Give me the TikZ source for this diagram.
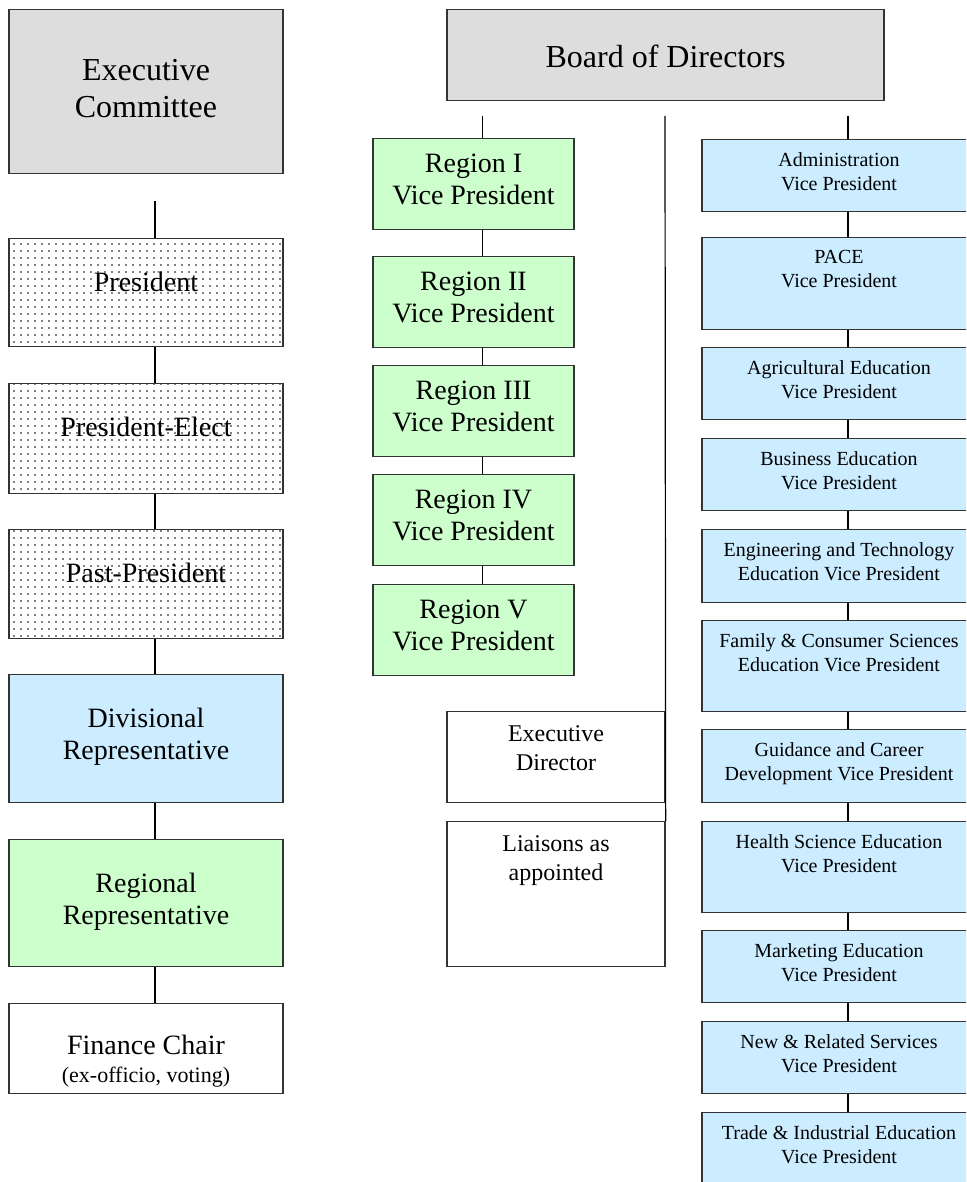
\documentclass[tikz,border=0pt]{standalone}
\usepackage{fontspec}
\setmainfont{Liberation Serif}
\usetikzlibrary{patterns}

\definecolor{headgray}{HTML}{DDDDDD}
\definecolor{vpgreen}{HTML}{CCFFCC}
\definecolor{vpblue}{HTML}{CCECFF}
\definecolor{frame}{HTML}{333333}

\pgfdeclarepatternformonly{sparse dots}{\pgfqpoint{-1pt}{-1pt}}{\pgfqpoint{1pt}{1pt}}{\pgfqpoint{7pt}{7pt}}%
  {\pgfpathcircle{\pgfqpoint{0pt}{0pt}}{0.9pt}\pgfusepath{fill}}

\tikzstyle{box}=[draw=frame,line width=1.3pt,anchor=north,inner sep=0pt]
\tikzstyle{head}=[box,fill=headgray]
\tikzstyle{officer}=[box,pattern=sparse dots,minimum width=274pt]
\tikzstyle{divrep}=[box,fill=vpblue,minimum width=274pt]
\tikzstyle{regrep}=[box,fill=vpgreen,minimum width=274pt]
\tikzstyle{plain}=[box,fill=white]
\tikzstyle{region}=[box,fill=vpgreen,minimum width=201pt,minimum height=91pt]
\tikzstyle{staff}=[box,fill=white,minimum width=218pt]
\tikzstyle{division}=[box,fill=vpblue,minimum width=274pt]
\tikzstyle{link}=[draw=black,line width=1.2pt]

\tikzstyle{txt}=[anchor=north,align=center,inner sep=0pt]
\tikzstyle{toptext}=[txt,yshift=-50pt,font=\fontsize{32}{37}\selectfont]
\tikzstyle{boardtext}=[txt,yshift=-36pt,font=\fontsize{32}{37}\selectfont]
\tikzstyle{lefttext}=[txt,yshift=-34pt,font=\fontsize{28}{32}\selectfont]
\tikzstyle{regiontext}=[txt,yshift=-16pt,font=\fontsize{28}{31.5}\selectfont]
\tikzstyle{stafftext}=[txt,yshift=-14pt,font=\fontsize{24}{29}\selectfont]
\tikzstyle{vptext}=[txt,yshift=-13.5pt,font=\fontsize{20}{23.5}\selectfont]

\begin{document}
\begin{tikzpicture}[x=1pt,y=-1pt]
  \clip (0,0) rectangle (966,1182);

  % executive committee
  \node[head,minimum width=274pt,minimum height=164pt,label={[toptext]north:{Executive\\Committee}}] (exec) at (146,9) {};
  \node[officer,minimum height=108pt,label={[lefttext]north:{President}}] (pres) at (146,238) {};
  \node[officer,minimum height=110pt,label={[lefttext]north:{President-Elect}}] (elect) at (146,383) {};
  \node[officer,minimum height=109pt,label={[lefttext]north:{Past-President}}] (past) at (146,529) {};
  \node[divrep,minimum height=128pt,label={[lefttext]north:{Divisional\\Representative}}] (divrep) at (146,674) {};
  \node[regrep,minimum height=127pt,label={[lefttext]north:{Regional\\Representative}}] (regrep) at (146,839) {};
  \node[plain,minimum width=274pt,minimum height=90pt,label={[lefttext,yshift=2pt]north:{Finance Chair\\[-4pt]{\fontsize{22}{25}\selectfont(ex-officio, voting)}}}] (fin) at (146,1003) {};

  \coordinate (ectop) at (155,201);
  \draw[link] (ectop) -- ([xshift=9pt]pres.north);
  \draw[link] ([xshift=9pt]pres.south) -- ([xshift=9pt]elect.north);
  \draw[link] ([xshift=9pt]elect.south) -- ([xshift=9pt]past.north);
  \draw[link] ([xshift=9pt]past.south) -- ([xshift=9pt]divrep.north);
  \draw[link] ([xshift=9pt]divrep.south) -- ([xshift=9pt]regrep.north);
  \draw[link] ([xshift=9pt]regrep.south) -- ([xshift=9pt]fin.north);

  % board of directors
  \node[head,minimum width=437pt,minimum height=91pt,label={[boardtext]north:{Board of Directors}}] (board) at (665.5,9) {};

  \node[region,label={[regiontext]north:{Region I\\Vice President}}] (reg1) at (473.5,138) {};
  \node[region,label={[regiontext]north:{Region II\\Vice President}}] (reg2) at (473.5,256) {};
  \node[region,label={[regiontext]north:{Region III\\Vice President}}] (reg3) at (473.5,365) {};
  \node[region,label={[regiontext]north:{Region IV\\Vice President}}] (reg4) at (473.5,474) {};
  \node[region,label={[regiontext]north:{Region V\\Vice President}}] (reg5) at (473.5,584) {};

  \node[staff,minimum height=91pt,label={[stafftext]north:{Executive\\Director}}] (exdir) at (556,711) {};
  \node[staff,minimum height=145pt,label={[stafftext]north:{Liaisons as\\appointed}}] (liaison) at (556,821) {};

  \node[division,minimum height=72pt,label={[vptext]north:{Administration\\Vice President}}] (admin) at (839,139) {};
  \node[division,minimum height=92pt,label={[vptext]north:{PACE\\Vice President}}] (pace) at (839,237) {};
  \node[division,minimum height=72pt,label={[vptext]north:{Agricultural Education\\Vice President}}] (agri) at (839,347) {};
  \node[division,minimum height=72pt,label={[vptext]north:{Business Education\\Vice President}}] (bus) at (839,438) {};
  \node[division,minimum height=73pt,label={[vptext]north:{Engineering and Technology\\Education Vice President}}] (eng) at (839,529) {};
  \node[division,minimum height=91pt,label={[vptext]north:{Family \& Consumer Sciences\\Education Vice President}}] (fcs) at (839,620) {};
  \node[division,minimum height=73pt,label={[vptext]north:{Guidance and Career\\Development Vice President}}] (guid) at (839,729) {};
  \node[division,minimum height=91pt,label={[vptext]north:{Health Science Education\\Vice President}}] (health) at (839,821) {};
  \node[division,minimum height=72pt,label={[vptext]north:{Marketing Education\\Vice President}}] (mkt) at (839,930) {};
  \node[division,minimum height=72pt,label={[vptext]north:{New \& Related Services\\Vice President}}] (nrs) at (839,1021) {};
  \node[division,minimum height=92pt,label={[vptext]north:{Trade \& Industrial Education\\Vice President}}] (tie) at (839,1112) {};

  \coordinate (bdleft) at (482.5,116);
  \coordinate (bdmid) at (665,116);
  \coordinate (bdright) at (848,116);
  \draw[link] (bdleft) -- ([xshift=9pt]reg1.north);
  \draw[link] ([xshift=9pt]reg1.south) -- ([xshift=9pt]reg2.north);
  \draw[link] ([xshift=9pt]reg2.south) -- ([xshift=9pt]reg3.north);
  \draw[link] ([xshift=9pt]reg3.south) -- ([xshift=9pt]reg4.north);
  \draw[link] ([xshift=9pt]reg4.south) -- ([xshift=9pt]reg5.north);
  \draw[link] (bdmid) -- (liaison.north east);
  \draw[link] (bdright) -- ([xshift=9pt]admin.north);
  \draw[link] ([xshift=9pt]admin.south) -- ([xshift=9pt]pace.north);
  \draw[link] ([xshift=9pt]pace.south) -- ([xshift=9pt]agri.north);
  \draw[link] ([xshift=9pt]agri.south) -- ([xshift=9pt]bus.north);
  \draw[link] ([xshift=9pt]bus.south) -- ([xshift=9pt]eng.north);
  \draw[link] ([xshift=9pt]eng.south) -- ([xshift=9pt]fcs.north);
  \draw[link] ([xshift=9pt]fcs.south) -- ([xshift=9pt]guid.north);
  \draw[link] ([xshift=9pt]guid.south) -- ([xshift=9pt]health.north);
  \draw[link] ([xshift=9pt]health.south) -- ([xshift=9pt]mkt.north);
  \draw[link] ([xshift=9pt]mkt.south) -- ([xshift=9pt]nrs.north);
  \draw[link] ([xshift=9pt]nrs.south) -- ([xshift=9pt]tie.north);
\end{tikzpicture}
\end{document}
